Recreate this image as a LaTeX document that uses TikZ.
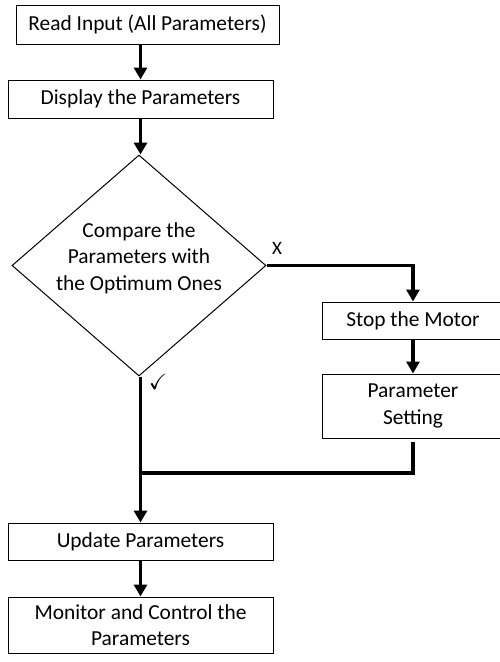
\documentclass[tikz,border=0pt]{standalone}
\usepackage{fontspec}
\setmainfont{Carlito}
\usepackage{amssymb}
\usetikzlibrary{shapes.geometric,arrows.meta}
\begin{document}
\begin{tikzpicture}[x=1pt,y=-1pt,
  box/.style={draw,line width=1pt,inner sep=0pt,align=center,font=\fontsize{21.4}{26.7}\selectfont},
  dia/.style={draw,line width=1pt,diamond,inner sep=0pt,minimum width=254pt,minimum height=221pt},
  txt/.style={inner sep=0pt,align=center,font=\fontsize{21.4}{26.7}\selectfont},
  conn/.style={line width=3.2pt,-{Triangle[length=12pt,width=13pt]}},
  plain/.style={line width=3.2pt}]
\useasboundingbox (0,0) rectangle (500,662);
\clip (0,0) rectangle (500,662);
\node[box,minimum width=263pt,minimum height=39pt] (read) at (147.5,24.5) {Read Input (All Parameters)};
\node[box,minimum width=265pt,minimum height=38pt] (disp) at (140.5,99) {Display the Parameters};
\node[dia] (cmp) at (139,265.5) {};
\node[txt] (cmpt) at (139,258) {Compare the\\Parameters with\\the Optimum Ones};
\node[box,minimum width=182pt,minimum height=37pt] (stop) at (413,320.5) {Stop the Motor};
\node[box,minimum width=182pt,minimum height=64pt] (set) at (413,406) {Parameter\\Setting};
\node[box,minimum width=265pt,minimum height=37pt] (upd) at (140.5,541.5) {Update Parameters};
\node[box,minimum width=265pt,minimum height=56pt] (mon) at (140.5,625) {Monitor and Control the\\Parameters};
\node[txt,font=\fontsize{19}{21}\selectfont] (xl) at (277,248) {X};
\node[txt,font=\fontsize{22}{24}\selectfont] (ck) at (158,382) {\checkmark};
\coordinate (join) at (140.5,473);
\draw[conn] (read.south -| disp.north) -- (disp.north);
\draw[conn] (disp.south) -- (cmp.north -| disp.south);
\draw[conn] (cmp.east) -| (stop.north);
\draw[conn] (stop.south) -- (set.north);
\draw[plain] ([yshift=-3pt]set.south) |- (join);
\draw[conn] (cmp.south -| upd.north) -- (upd.north);
\draw[conn] (upd.south) -- (mon.north);
\end{tikzpicture}
\end{document}
